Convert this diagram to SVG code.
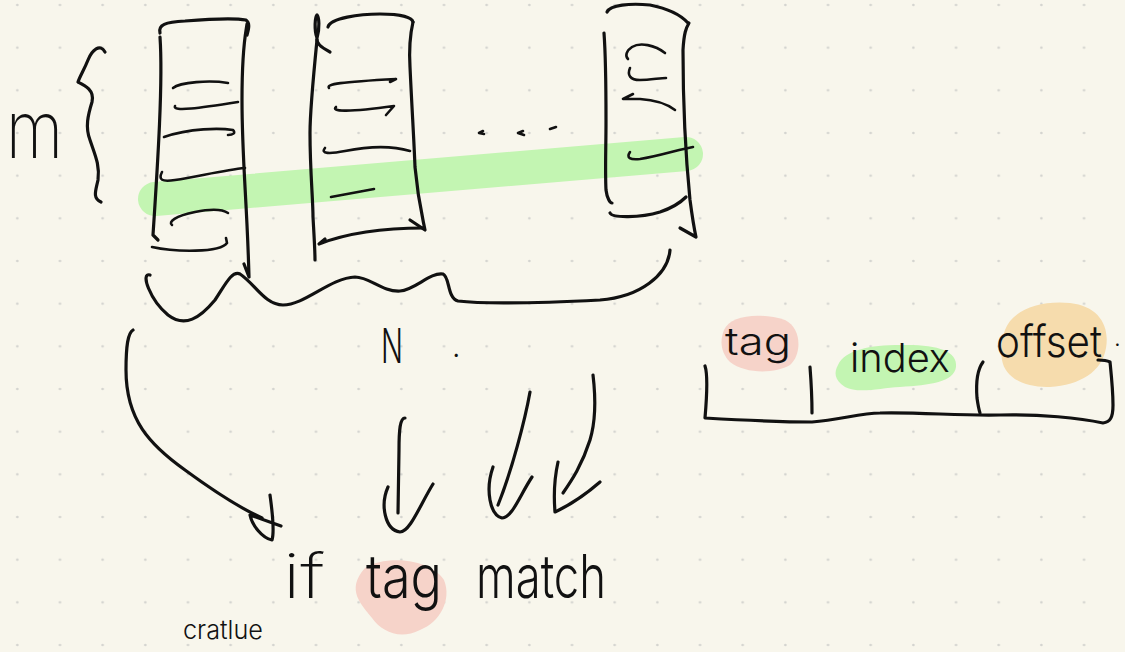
<svg xmlns="http://www.w3.org/2000/svg" width="1125" height="652" viewBox="0 0 1125 652">
  <defs>
    <pattern id="dots" x="0" y="0" width="42.67" height="42.67" patternUnits="userSpaceOnUse">
      <circle cx="17.3" cy="5" r="1.3" fill="#d3d3cf"/>
    </pattern>
    <style>
      .ink { fill: none; stroke: #111; stroke-width: 3.2; stroke-linecap: round; stroke-linejoin: round; }
      .thin { stroke-width: 2.6; }
      .hand { font-family: "Inter", "Liberation Sans", sans-serif; font-weight: 300; fill: #111; }
      .light { font-weight: 200; }
      .green { fill: #c3f5b2; }
      .pink { fill: #f6d3c9; }
      .orange { fill: #f6dcad; }
    </style>
  </defs>

  <g id="background">
    <rect width="1125" height="652" fill="#f8f6ec"/>
    <rect width="1125" height="652" fill="url(#dots)"/>
  </g>

  <g id="highlight">
    <path d="M155,199 L686,154" fill="none" stroke="#c3f5b2" stroke-width="34" stroke-linecap="round"/>
  </g>

  <g id="column-1">
    <path class="ink" d="M160,33 C158,25 165,22 185,21 C210,19 235,18 246,20 C250,23 249,28 247,35"/>
    <path class="ink" d="M247,24 C246,32 242,45 242,100 C242,160 247,200 249,277 M244,264 L249,277"/>
    <path class="ink" d="M160,37 C163,80 158,160 153,235 L158,240"/>
    <path class="ink thin" d="M173,88 C180,82 210,80 228,83"/>
    <path class="ink thin" d="M175,106 C172,112 200,108 238,102"/>
    <path class="ink thin" d="M164,137 C190,128 220,128 233,130 C236,133 233,135 228,135"/>
    <path class="ink thin" d="M162,172 C158,180 162,182 175,180 C200,176 225,170 245,168"/>
    <path class="ink thin" d="M172,225 C168,222 175,216 195,212 C210,209 222,209 228,213"/>
    <path class="ink thin" d="M152,247 C175,252 220,253 227,243 L226,238"/>
  </g>

  <g id="column-2">
    <path class="ink" d="M317,38 C314,30 315,17 317,15 C319,17 320,28 317,38 C316,42 320,47 330,52"/>
    <path class="ink" d="M317,40 C313,80 310,110 310,133 C310,170 313,200 313,217 C314,235 315,250 315,260"/>
    <path class="ink" d="M328,27 C330,18 360,14 380,14 C400,14 412,17 413,22"/>
    <path class="ink" d="M413,22 C410,35 409,50 410,67 C412,110 414,140 415,167 C418,200 422,215 425,230 M410,220 L425,230"/>
    <path class="ink" d="M424,228 C390,228 350,232 319,244 L325,239"/>
    <path class="ink thin" d="M329,88 C326,84 340,82 396,79 L390,82"/>
    <path class="ink thin" d="M336,107 C331,111 345,113 394,106 L386,115"/>
    <path class="ink thin" d="M325,148 C320,154 330,154 345,151 C370,146 390,145 410,151"/>
    <path class="ink thin" d="M331,197 L374,189"/>
  </g>

  <g id="ellipsis">
    <path class="ink thin" d="M483,131 L479,133 L484,134"/>
    <path class="ink thin" d="M523,131 L518,133 L524,135"/>
    <path class="ink thin" d="M550,129 L556,127"/>
  </g>

  <g id="column-3">
    <path class="ink" d="M607,12 C610,5 630,3 650,5 C665,8 680,14 688,23"/>
    <path class="ink" d="M689,23 C686,28 684,33 683,50 C683,110 686,160 690,200 C692,215 694,228 696,237 M680,228 L696,237"/>
    <path class="ink" d="M604,33 C606,60 606,90 606,120 C606,150 605,170 606,190 C607,198 610,203 612,203"/>
    <path class="ink" d="M610,213 C612,218 640,218 660,212 C672,208 680,203 686,197"/>
    <path class="ink thin" d="M665,53 C655,45 640,42 632,47 C626,51 625,56 628,59"/>
    <path class="ink thin" d="M630,68 C627,75 630,80 640,80 C650,80 660,78 666,78"/>
    <path class="ink thin" d="M633,94 L623,99 L640,99 C657,100 667,104 675,110"/>
    <path class="ink thin" d="M630,152 C626,158 630,160 640,159 C660,156 680,149 693,147"/>
  </g>

  <g id="brace-m">
    <path class="ink" d="M105,52 C100,43 92,50 88,60 C84,70 80,76 78,82 C84,85 95,90 92,102 C88,115 85,127 90,140 C95,155 100,165 98,180 C96,190 92,198 101,202"/>
    <text class="hand light" x="6" y="158" font-size="80" textLength="57" lengthAdjust="spacingAndGlyphs">m</text>
  </g>

  <g id="brace-n">
    <path class="ink" d="M150,275 C140,272 150,300 168,315 C185,328 200,318 215,300 C225,285 232,270 240,274 C255,284 265,305 283,305 C305,305 330,278 355,277 C370,277 382,292 400,291 C415,290 430,272 443,274 C450,277 447,298 458,301 C490,305 560,302 600,300 C640,297 668,275 670,250"/>
    <text class="hand" x="381" y="363" font-size="48" textLength="22" lengthAdjust="spacingAndGlyphs">N</text>
    <text class="hand" x="452" y="357" font-size="30">.</text>
  </g>

  <g id="connectors">
    <path class="ink" d="M133,330 C128,333 126,345 126,370 C126,420 150,445 185,470 C215,492 240,508 262,518"/>
    <path class="ink" d="M270,495 C272,510 275,530 272,540 C262,538 252,525 250,515 L281,526"/>
    <path class="ink" d="M405,418 C400,418 399,430 399,450 L398,513"/>
    <path class="ink" d="M388,487 C380,505 385,530 400,532 C410,532 420,505 433,484"/>
    <path class="ink" d="M530,392 C525,420 512,470 498,505"/>
    <path class="ink" d="M493,467 C485,490 490,515 502,518 C512,518 520,495 532,477"/>
    <path class="ink" d="M593,375 C596,400 596,420 590,440 C582,465 572,480 563,493"/>
    <path class="ink" d="M558,462 C554,480 554,500 555,512 C570,505 585,495 600,482"/>
  </g>

  <g id="condition">
    <path class="pink" d="M365,568 C385,555 430,558 444,580 C452,600 440,622 420,630 C400,640 382,632 372,618 C362,605 345,590 365,568Z"/>
    <text class="hand light" x="283" y="598" font-size="62" textLength="42" lengthAdjust="spacingAndGlyphs">if</text>
    <text class="hand" x="366" y="598" font-size="60" textLength="76" lengthAdjust="spacingAndGlyphs">tag</text>
    <text class="hand" x="476" y="598" font-size="60" textLength="130" lengthAdjust="spacingAndGlyphs">match</text>
  </g>

  <g id="address-fields">
    <path class="pink" d="M724,330 C730,315 760,312 785,320 C802,328 802,355 790,365 C775,374 745,374 730,362 C720,352 720,340 724,330Z"/>
    <path class="green" d="M838,365 C845,350 870,345 900,345 C935,344 958,350 956,367 C954,382 930,385 900,387 C880,388 858,394 845,387 C834,380 834,372 838,365Z"/>
    <path class="orange" d="M1005,330 C1012,310 1040,300 1070,303 C1098,306 1110,325 1106,348 C1102,372 1080,385 1050,387 C1025,388 1005,378 1002,360 C1000,348 1002,338 1005,330Z"/>
    <text class="hand" x="725" y="355" font-size="38" textLength="66" lengthAdjust="spacingAndGlyphs">tag</text>
    <text class="hand" x="850" y="372" font-size="40" textLength="100" lengthAdjust="spacingAndGlyphs">index</text>
    <text class="hand" x="996" y="357" font-size="44" textLength="106" lengthAdjust="spacingAndGlyphs">offset</text>
    <text class="hand" x="1114" y="346" font-size="24">.</text>
    <path class="ink" d="M705,366 C708,375 707,395 705,418 C740,420 780,422 812,422 C840,420 860,413 880,413 C920,412 960,416 1000,415 C1040,414 1080,418 1103,423 C1110,422 1113,418 1113,405 C1113,390 1111,372 1110,362 C1106,360 1102,360 1098,360"/>
    <path class="ink" d="M810,367 C811,380 812,395 812,413"/>
    <path class="ink" d="M983,362 C977,370 976,385 977,398 C978,405 979,410 980,413"/>
  </g>

  <g id="stray-text">
    <text class="hand" x="183" y="639" font-size="26" textLength="80" lengthAdjust="spacingAndGlyphs">cratlue</text>
  </g>
</svg>
